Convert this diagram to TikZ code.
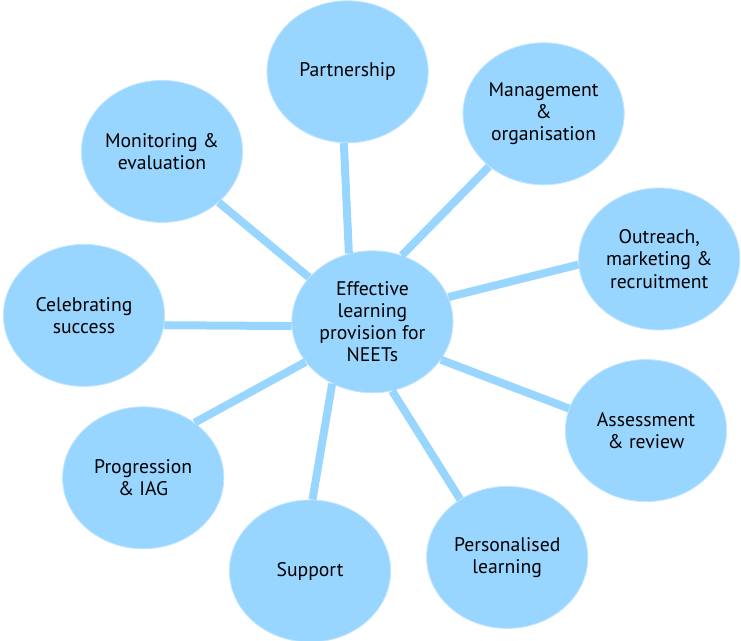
\documentclass[tikz,border=0pt]{standalone}
\usepackage{fontspec}
\setmainfont{PT Sans}
\usetikzlibrary{shapes.geometric}
\definecolor{bubble}{RGB}{153,214,255}
\begin{document}
\begin{tikzpicture}[
    topic/.style={ellipse, fill=bubble, draw=bubble!60!white, line width=0.6pt,
        minimum width=4.03cm, minimum height=3.55cm, inner sep=0pt,
        align=center, font=\fontsize{14}{15.8}\selectfont},
    spoke/.style={draw=bubble, line width=0.2cm}]
                \useasboundingbox (0,0) rectangle (18.525,16.025);
                \node [topic] (hub) at (9.31,7.98) {Effective\\learning\\provision for\\NEETs};
                \node [topic] (part) at (8.69,14.23) {Partnership};
                \node [topic] (mgmt) at (13.59,13.18) {Management\\\&\\organisation};
                \node [topic] (outr) at (16.48,9.55) {Outreach,\\marketing \&\\recruitment};
                \node [topic] (asse) at (16.15,5.26) {Assessment\\\& review};
                \node [topic] (pers) at (12.68,2.09) {Personalised\\learning};
                \node [topic] (supp) at (7.75,1.75) {Support};
                \node [topic] (prog) at (3.58,4.08) {Progression\\\& IAG};
                \node [topic] (cele) at (2.10,8.14) {Celebrating\\success};
                \node [topic] (moni) at (4.05,12.24) {Monitoring \&\\evaluation};
                \draw [spoke] (hub.109)-- (part.267);
                \draw [spoke] (hub.66)-- (mgmt.224);
                \draw [spoke] (hub.18)-- (outr.184);
                \draw [spoke] (hub.-29)-- (asse.164);
                \draw [spoke] (hub.-74)-- (pers.129);
                \draw [spoke] (hub.237)-- (supp.88);
                \draw [spoke] (hub.211)-- (prog.47);
                \draw [spoke] (hub.183)-- (cele.-7);
                \draw [spoke] (hub.145)-- (moni.-42);
            \end{tikzpicture}
\end{document}
